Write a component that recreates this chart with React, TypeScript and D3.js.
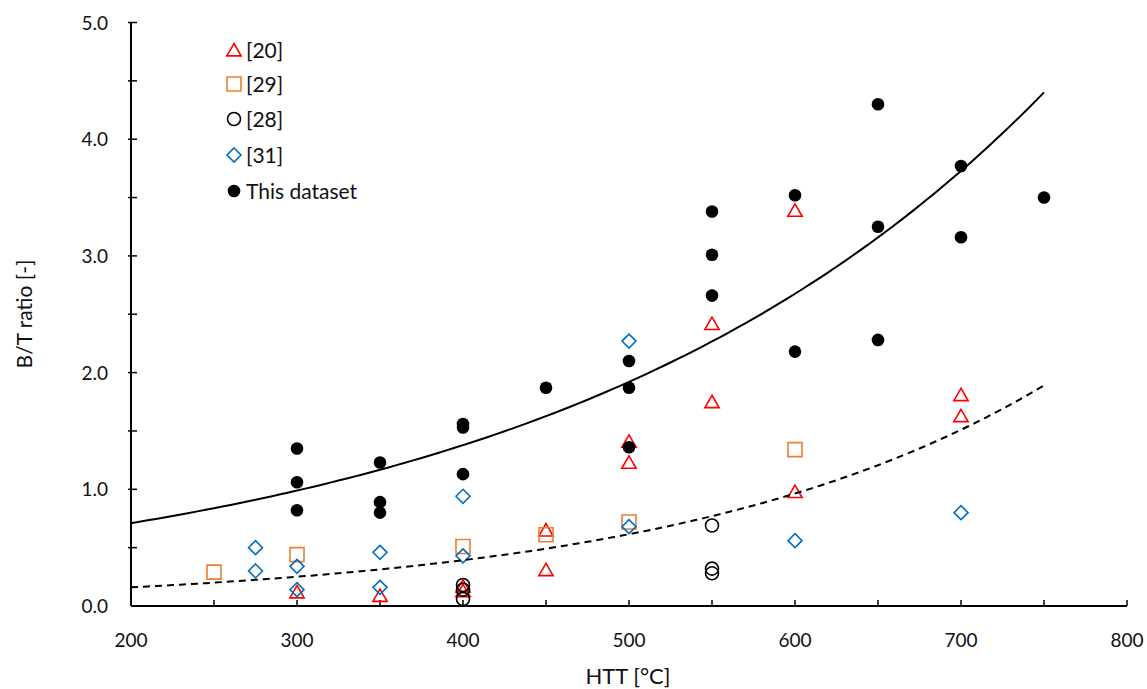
import React, { useEffect, useRef } from 'react';
import * as d3 from 'd3';

// [20] - red open triangles
const ref20X = [300, 350, 400, 400, 450, 450, 500, 500, 550, 550, 600, 600, 700, 700];
const ref20Y = [0.12, 0.09, 0.17, 0.13, 0.65, 0.31, 1.41, 1.23, 2.42, 1.75, 3.39, 0.98, 1.81, 1.63];

// [29] - orange open squares
const ref29X = [250, 300, 400, 450, 500, 600];
const ref29Y = [0.29, 0.44, 0.51, 0.61, 0.72, 1.34];

// [28] - black open circles
const ref28X = [400, 400, 400, 550, 550, 550];
const ref28Y = [0.18, 0.14, 0.06, 0.69, 0.32, 0.28];

// [31] - blue open diamonds
const ref31X = [275, 275, 300, 300, 350, 350, 400, 400, 500, 500, 600, 700];
const ref31Y = [0.50, 0.30, 0.34, 0.14, 0.46, 0.16, 0.94, 0.43, 2.27, 0.68, 0.56, 0.80];

// This dataset - black filled dots
const thisX = [300, 300, 300, 350, 350, 350, 400, 400, 400, 450, 500, 500, 500, 550, 550, 550, 600, 600, 650, 650, 650, 700, 700, 750];
const thisY = [1.35, 1.06, 0.82, 1.23, 0.89, 0.80, 1.56, 1.53, 1.13, 1.87, 2.10, 1.87, 1.36, 3.38, 3.01, 2.66, 3.52, 2.18, 4.30, 3.25, 2.28, 3.77, 3.16, 3.50];

// exponential trendlines y = a * exp(b * x)
const solidTrend = { a: 0.3657, b: 0.003317 };
const dashedTrend = { a: 0.0652, b: 0.004489 };
const trendRange = [200, 750];

const xTicks = [200, 300, 400, 500, 600, 700, 800];
const yTicks = [0, 1, 2, 3, 4, 5];

const legendLabels = ['[20]', '[29]', '[28]', '[31]', 'This dataset'];

export default function App() {
  const ref = useRef<SVGSVGElement>(null);

  useEffect(() => {
    const svg = d3.select(ref.current);
    svg.selectAll('*').remove();
    const font = 'Lato, "Open Sans", sans-serif';

    const x = d3.scaleLinear().domain([200, 800]).range([131, 1127]);
    const y = d3.scaleLinear().domain([0, 5]).range([606, 22.5]);

    // axes
    const g = svg.append('g');
    g.append('line').attr('x1', x(200)).attr('x2', x(800)).attr('y1', y(0)).attr('y2', y(0))
      .attr('stroke', '#000').attr('stroke-width', 2);
    g.append('line').attr('x1', x(200)).attr('x2', x(200)).attr('y1', y(0)).attr('y2', y(5))
      .attr('stroke', '#000').attr('stroke-width', 2);

    const xMinor = d3.range(250, 801, 50);
    g.selectAll('.xt').data(xMinor).enter().append('line')
      .attr('x1', d => x(d)).attr('x2', d => x(d))
      .attr('y1', y(0)).attr('y2', y(0) - 6)
      .attr('stroke', '#000').attr('stroke-width', 1.5);
    const yMinor = d3.range(0.5, 5.01, 0.5);
    g.selectAll('.yt').data(yMinor).enter().append('line')
      .attr('x1', x(200) - 3).attr('x2', x(200) + 6)
      .attr('y1', d => y(d)).attr('y2', d => y(d))
      .attr('stroke', '#000').attr('stroke-width', 1.5);

    g.selectAll('.xl').data(xTicks).enter().append('text')
      .attr('x', d => x(d)).attr('y', y(0) + 41)
      .attr('text-anchor', 'middle').attr('font-family', font).attr('font-size', 19)
      .attr('fill', '#111')
      .text(d => String(d));
    g.selectAll('.yl').data(yTicks).enter().append('text')
      .attr('x', 108).attr('y', d => y(d) + 7)
      .attr('text-anchor', 'end').attr('font-family', font).attr('font-size', 19)
      .attr('fill', '#111')
      .text(d => d.toFixed(1));

    g.append('text').attr('x', 628).attr('y', 684).attr('text-anchor', 'middle')
      .attr('font-family', font).attr('font-size', 22).attr('fill', '#111').text('HTT [°C]');
    g.append('text').attr('transform', 'translate(32,314) rotate(-90)').attr('text-anchor', 'middle')
      .attr('font-family', font).attr('font-size', 21).attr('fill', '#111').text('B/T ratio [-]');

    // marker shapes
    const tri = (s: number) => `M0,${-s * 0.5}L${s * 0.55},${s * 0.45}L${-s * 0.55},${s * 0.45}Z`;
    const sq = (s: number) => `M${-s / 2},${-s / 2}h${s}v${s}h${-s}Z`;
    const dia = (s: number) => `M0,${-s / 2}L${s / 2},0L0,${s / 2}L${-s / 2},0Z`;

    const styles = [
      { kind: 'tri', color: '#FF0000' },
      { kind: 'sq', color: '#ED7D31' },
      { kind: 'circ', color: '#000000' },
      { kind: 'dia', color: '#0070C0' },
      { kind: 'dot', color: '#000000' },
    ];

    const drawMarker = (sel: d3.Selection<any, any, any, any>, kind: string, color: string) => {
      if (kind === 'tri') {
        sel.append('path').attr('d', tri(13)).attr('fill', 'none').attr('stroke', color).attr('stroke-width', 1.6);
      } else if (kind === 'sq') {
        sel.append('path').attr('d', sq(14)).attr('fill', 'none').attr('stroke', color).attr('stroke-width', 1.6);
      } else if (kind === 'circ') {
        sel.append('circle').attr('r', 6.5).attr('fill', 'none').attr('stroke', color).attr('stroke-width', 1.6);
      } else if (kind === 'dia') {
        sel.append('path').attr('d', dia(14)).attr('fill', 'none').attr('stroke', color).attr('stroke-width', 1.6);
      } else {
        sel.append('circle').attr('r', 6.3).attr('fill', color);
      }
    };

    const series = [
      { xs: ref20X, ys: ref20Y },
      { xs: ref29X, ys: ref29Y },
      { xs: ref28X, ys: ref28Y },
      { xs: ref31X, ys: ref31Y },
      { xs: thisX, ys: thisY },
    ];

    series.forEach((s, i) => {
      const pts = s.xs.map((v, k) => [v, s.ys[k]]);
      const grp = svg.append('g');
      pts.forEach(p => {
        const m = grp.append('g').attr('transform', `translate(${x(p[0])},${y(p[1])})`);
        drawMarker(m, styles[i].kind, styles[i].color);
      });
    });

    // trendlines
    const xs = d3.range(trendRange[0], trendRange[1] + 0.1, 5);
    const line = d3.line<number>().x(d => x(d));
    svg.append('path')
      .attr('d', line.y(d => y(solidTrend.a * Math.exp(solidTrend.b * d)))(xs))
      .attr('fill', 'none').attr('stroke', '#000').attr('stroke-width', 2);
    svg.append('path')
      .attr('d', line.y(d => y(dashedTrend.a * Math.exp(dashedTrend.b * d)))(xs))
      .attr('fill', 'none').attr('stroke', '#000').attr('stroke-width', 2)
      .attr('stroke-dasharray', '7,5');

    // legend
    const rowsY = [50, 84, 119, 155, 191];
    legendLabels.forEach((lab, i) => {
      const m = svg.append('g').attr('transform', `translate(234,${rowsY[i]})`);
      drawMarker(m, styles[i].kind, styles[i].color);
      svg.append('text').attr('x', 246).attr('y', rowsY[i] + 7.5)
        .attr('font-family', font).attr('font-size', 21).attr('fill', '#111').text(lab);
    });
  }, []);

  return (
    <svg ref={ref} width={1147} height={689}
      style={{ position: 'absolute', left: 0, top: 0, background: '#fff' }} />
  );
}
